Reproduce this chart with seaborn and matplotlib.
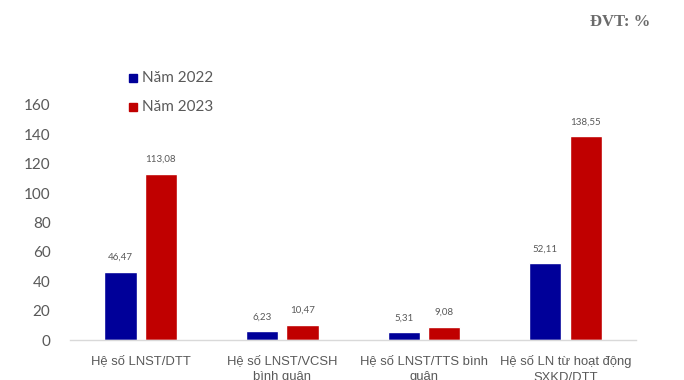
import matplotlib
matplotlib.use("Agg")
import matplotlib.pyplot as plt
from matplotlib.patches import Rectangle
import seaborn as sns
import pandas as pd

categories = [
    "Hệ số LNST/DTT",
    "Hệ số LNST/VCSH\nbình quân",
    "Hệ số LNST/TTS bình\nquân",
    "Hệ số LN từ hoạt động\nSXKD/DTT",
]
years = ["Năm 2022", "Năm 2023"]
values_2022 = [46.47, 6.23, 5.31, 52.11]
values_2023 = [113.08, 10.47, 9.08, 138.55]
y_ticks = [0, 20, 40, 60, 80, 100, 120, 140, 160]

df = pd.DataFrame({
    "category": categories * 2,
    "year": [years[0]] * 4 + [years[1]] * 4,
    "value": values_2022 + values_2023,
})

sns.set_theme(style="white")
plt.rcParams["font.family"] = ["Lato", "DejaVu Sans"]

fig = plt.figure(figsize=(6.84, 3.8), dpi=100)
ax = fig.add_axes([0.1023, 0.105, 0.828, 0.619])

palette = {years[0]: "#000099", years[1]: "#C00000"}
sns.barplot(data=df, x="category", y="value", hue="year", palette=palette,
            width=0.57, gap=0.2, ax=ax, legend=False, saturation=1)

for cont in ax.containers:
    labels = [f"{v:.2f}".replace(".", ",") for v in cont.datavalues]
    ax.bar_label(cont, labels=labels, padding=7, fontsize=7, color="#595959")

ax.set_ylim(0, 160)
ax.set_yticks(y_ticks)
ax.set_yticklabels([str(t) for t in y_ticks], fontsize=11, color="#595959")
ax.tick_params(axis="y", length=0, pad=14)
ax.tick_params(axis="x", length=0, pad=11)
for lbl in ax.get_xticklabels():
    lbl.set_fontsize(9.4)
    lbl.set_color("#595959")
    lbl.set_family(["Liberation Sans", "DejaVu Sans"])
    lbl.set_linespacing(1.45)
ax.set_xlabel("")
ax.set_ylabel("")
for side in ["top", "right", "left"]:
    ax.spines[side].set_visible(False)
ax.spines["bottom"].set_color("#D9D9D9")
ax.spines["bottom"].set_linewidth(1)

# legend: coloured squares with year labels above the plot area
for yr, y in zip(years, [78, 107]):
    yf = 1 - y / 380
    fig.patches.append(Rectangle((129 / 684, yf - 4 / 380), 8 / 684, 8 / 380,
                                 transform=fig.transFigure, color=palette[yr]))
    fig.text(142 / 684, yf, yr, fontsize=11, color="#595959", va="center", ha="left")

fig.text(650 / 684, 1 - 22 / 380, "ĐVT: %", fontsize=12, fontweight="bold",
         color="#6B6B6B", ha="right", va="center",
         family=["Liberation Serif", "DejaVu Serif"])

fig.savefig("out.png", dpi=100)
